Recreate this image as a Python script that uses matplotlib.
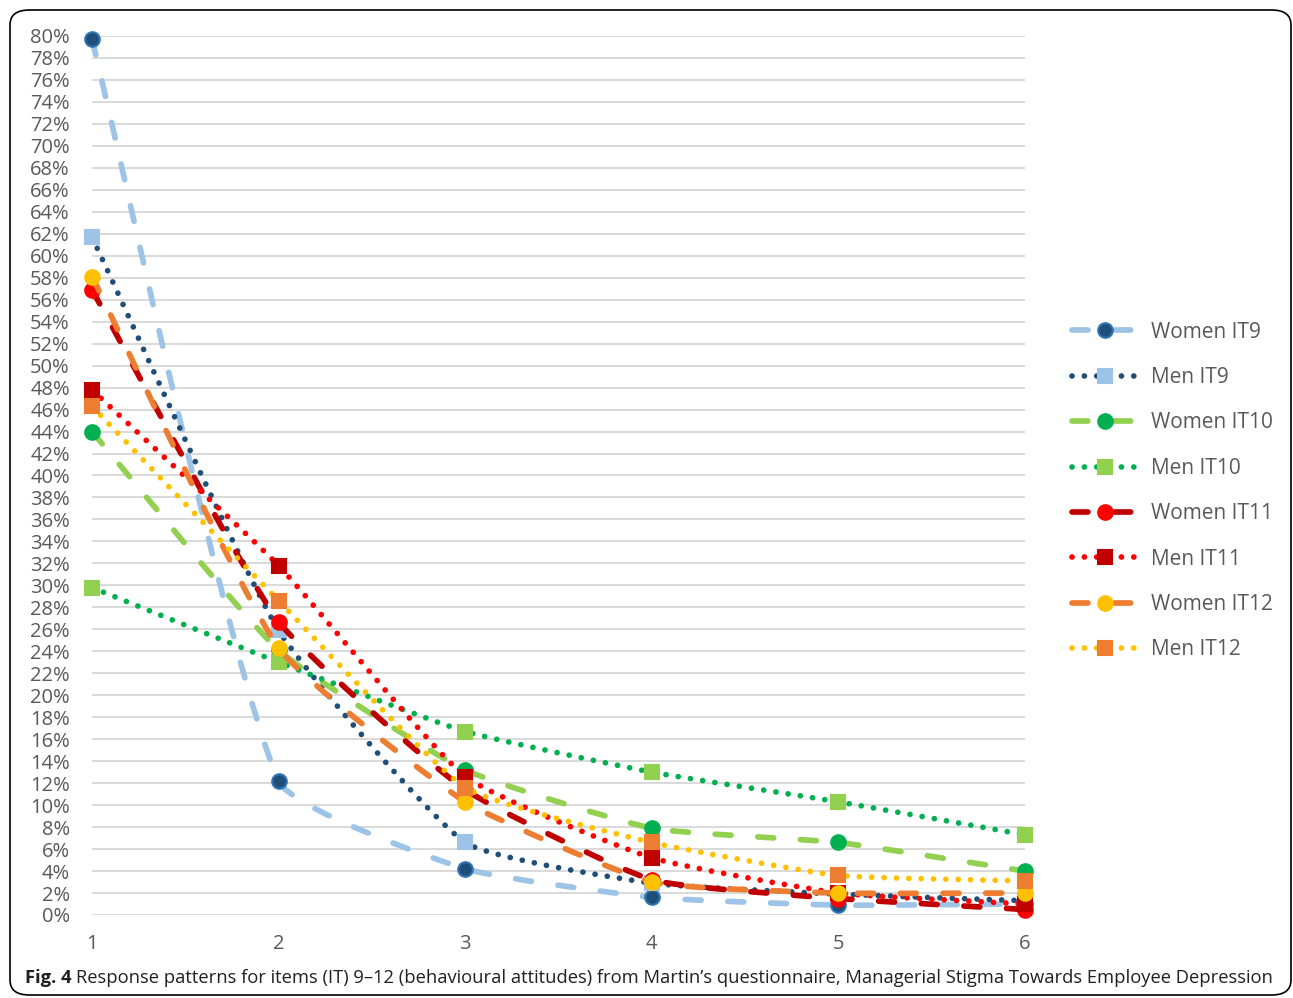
import numpy as np
import matplotlib
matplotlib.use("Agg")
import matplotlib.pyplot as plt
from matplotlib.path import Path
from matplotlib.patches import PathPatch, FancyBboxPatch
from matplotlib.lines import Line2D
from matplotlib.ticker import PercentFormatter, MultipleLocator

plt.rcParams['font.family'] = ['Open Sans', 'DejaVu Sans']

# données (en %)
answers = [1, 2, 3, 4, 5, 6]
women_it9 = [79.7, 12.2, 4.2, 1.6, 0.9, 1.0]
men_it9 = [61.7, 25.9, 6.6, 2.9, 1.9, 1.3]
women_it10 = [44.0, 24.1, 13.2, 7.9, 6.6, 4.0]
men_it10 = [29.8, 23.0, 16.7, 13.0, 10.3, 7.3]
women_it11 = [56.9, 26.7, 11.4, 3.2, 1.5, 0.5]
men_it11 = [47.8, 31.8, 12.6, 5.2, 2.0, 1.0]
women_it12 = [58.1, 24.3, 10.3, 3.0, 2.0, 2.0]
men_it12 = [46.3, 28.6, 11.6, 6.6, 3.6, 3.1]

labels = ["Women IT9", "Men IT9", "Women IT10", "Men IT10",
          "Women IT11", "Men IT11", "Women IT12", "Men IT12"]
values = [women_it9, men_it9, women_it10, men_it10,
          women_it11, men_it11, women_it12, men_it12]

# (couleur ligne, couleur marqueur, bord marqueur)
styles = [
    ("#9DC3E6", "#1F4E79", "#2E75B6"),
    ("#1F4E79", "#9DC3E6", "#9DC3E6"),
    ("#92D050", "#00B050", "#00B050"),
    ("#00B050", "#92D050", "#92D050"),
    ("#C00000", "#FF0000", "#FF0000"),
    ("#FF0000", "#C00000", "#C00000"),
    ("#ED7D31", "#FFC000", "#FFC000"),
    ("#FFC000", "#ED7D31", "#ED7D31"),
]
lw = 4.1
dashed = (0, (2.8, 4.7))
dotted = (0, (0.01, 2.16))

# taille de la zone de tracé en pixels
ax_w, ax_h = 933, 879
sc = np.array([ax_w / 5, ax_h / 80])


def smooth_path(x, y, k=0.15):
    # lissage léger façon Excel : Bezier avec poignées courtes
    pts = np.column_stack([x, y]).astype(float) * sc
    n = len(pts)
    verts = [pts[0]]
    codes = [Path.MOVETO]
    for i in range(n - 1):
        p0 = pts[i - 1] if i > 0 else pts[i]
        p3 = pts[i + 2] if i + 2 < n else pts[i + 1]
        seg = np.linalg.norm(pts[i + 1] - pts[i])
        h1 = (pts[i + 1] - p0) / 6
        h2 = (p3 - pts[i]) / 6
        for h in (h1, h2):
            L = np.linalg.norm(h)
            if L > k * seg:
                h *= k * seg / L
        verts += [pts[i] + h1, pts[i + 1] - h2, pts[i + 1]]
        codes += [Path.CURVE4] * 3
    return Path(np.array(verts) / sc, codes)


fig = plt.figure(figsize=(12.93, 9.98), dpi=100)
ax = fig.add_axes([92 / 1293, 83 / 998, ax_w / 1293, ax_h / 998])

handles = []
for k, (lab, vals, (lc, mc, ec)) in enumerate(zip(labels, values, styles)):
    ls = dashed if k % 2 == 0 else dotted
    mk = "o" if k % 2 == 0 else "s"
    ms = 10.5 if k % 2 == 0 else 10
    patch = PathPatch(smooth_path(answers, vals), fill=False, edgecolor=lc,
                      lw=lw, linestyle=ls, capstyle="round", clip_on=False,
                      zorder=3 + 2 * k)
    ax.add_patch(patch)
    ax.plot(answers, vals, linestyle="none", marker=mk, ms=ms, mfc=mc,
            mec=ec, mew=1.5, clip_on=False, zorder=4 + 2 * k)
    h = Line2D([], [], color=lc, lw=lw, linestyle=ls, dash_capstyle="round",
               marker=mk, ms=ms, mfc=mc, mec=ec, mew=1.5)
    handles.append(h)

ax.set_xlim(1, 6)
ax.set_ylim(0, 80)
ax.yaxis.set_major_locator(MultipleLocator(2))
ax.yaxis.set_major_formatter(PercentFormatter(100, decimals=0))
ax.set_xticks(answers)
ax.grid(axis="y", color="#D9D9D9", lw=1.4, zorder=0)
ax.set_axisbelow(True)
for s in ax.spines.values():
    s.set_visible(False)
ax.tick_params(axis="y", length=0, pad=16, labelsize=14.5, labelcolor="#595959")
ax.tick_params(axis="x", length=0, pad=14, labelsize=14.5, labelcolor="#595959")

leg = fig.legend(handles=handles, labels=labels, loc="center left",
                 bbox_to_anchor=(1053 / 1293, 1 - 491 / 998), frameon=False,
                 fontsize=15, handlelength=3.2, handletextpad=0.6,
                 labelspacing=1.17)
for t in leg.get_texts():
    t.set_color("#595959")

# cadre arrondi
fig.patches.append(FancyBboxPatch((10 / 1293, 3 / 998), 1281 / 1293, 985 / 998,
                                  boxstyle="round,pad=0,rounding_size=0.015",
                                  transform=fig.transFigure, fill=False,
                                  edgecolor="black", lw=1.2))

# légende de la figure
cap_y = 1 - 978 / 998
t1 = fig.text(25 / 1293, cap_y, "Fig. 4", fontsize=14, weight="bold",
              va="center", color="#231F20")
fig.canvas.draw()
r = fig.canvas.get_renderer()
w1 = t1.get_window_extent(r).x1
t2 = fig.text((w1 + 6) / 1293, cap_y,
              "Response patterns for items (IT) 9\u201312 (behavioural attitudes) from Martin\u2019s questionnaire, Managerial Stigma Towards Employee Depression",
              fontsize=14, va="center", color="#231F20")
fig.canvas.draw()
wt = t2.get_window_extent(r).x1
size = 14 * (1277 - 25) / (wt - 25)
t1.set_fontsize(size)
fig.canvas.draw()
w1 = t1.get_window_extent(r).x1
t2.set_fontsize(size)
t2.set_x((w1 + 5) / 1293)

fig.savefig("out.png", dpi=100)
